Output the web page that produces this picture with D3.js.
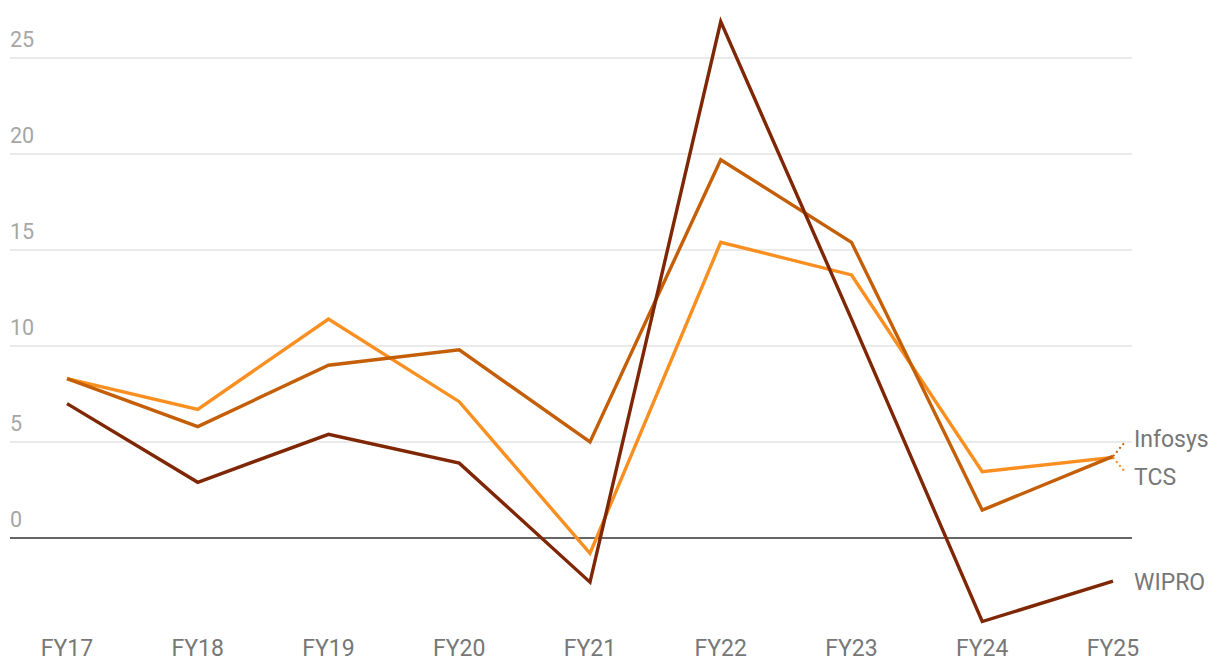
<!DOCTYPE html>
<html>
<head>
<meta charset="utf-8">
<script src="https://cdn.jsdelivr.net/npm/d3@7"></script>
<style>
  html, body { margin: 0; padding: 0; background: #fff; }
  svg { display: block; font-family: Roboto, "Noto Sans", sans-serif; }
</style>
</head>
<body>
<svg id="chart" width="1220" height="672"></svg>
<script>
const categories = ["FY17", "FY18", "FY19", "FY20", "FY21", "FY22", "FY23", "FY24", "FY25"];
const tcsValues     = [8.3, 6.7, 11.4, 7.1, -0.8, 15.4, 13.7, 3.45, 4.2];
const infosysValues = [8.3, 5.8, 9.0, 9.8, 5.0, 19.7, 15.4, 1.45, 4.25];
const wiproValues   = [7.0, 2.9, 5.4, 3.9, -2.3, 26.9, 11.4, -4.35, -2.25];
const yTicks = [0, 5, 10, 15, 20, 25];
const seriesNames = ["TCS", "Infosys", "WIPRO"];

const series = [
  { name: seriesNames[0], values: tcsValues, color: "#f98f20" },
  { name: seriesNames[1], values: infosysValues, color: "#c45f08" },
  { name: seriesNames[2], values: wiproValues, color: "#7f2704" }
];

const svg = d3.select("#chart");
const x = d3.scalePoint().domain(categories).range([67, 1113]);
const y = d3.scaleLinear().domain([0, 25]).range([538, 58]);

// gridlines
svg.append("g").selectAll("line").data(yTicks.filter(d => d !== 0)).join("line")
  .attr("x1", 10).attr("x2", 1132)
  .attr("y1", d => y(d)).attr("y2", d => y(d))
  .attr("stroke", "#e3e3e3").attr("stroke-width", 1.5);

// y labels
svg.append("g").selectAll("text").data(yTicks).join("text")
  .attr("x", 10).attr("y", d => y(d) - 11)
  .attr("font-size", 21.5).attr("fill", "#a6a6a6")
  .text(d => d);

// x labels
svg.append("g").selectAll("text").data(categories).join("text")
  .attr("x", d => x(d)).attr("y", 656)
  .attr("text-anchor", "middle")
  .attr("font-size", 23).attr("fill", "#777")
  .text(d => d);

// zero line
svg.append("line")
  .attr("x1", 10).attr("x2", 1132)
  .attr("y1", y(0)).attr("y2", y(0))
  .attr("stroke", "#333").attr("stroke-width", 1.5);

const line = d3.line()
  .x((d, i) => x(categories[i]))
  .y(d => y(d));

svg.append("g").selectAll("path").data(series).join("path")
  .attr("d", d => line(d.values))
  .attr("fill", "none")
  .attr("stroke", d => d.color)
  .attr("stroke-width", 3.4)
  .attr("stroke-linejoin", "miter");

// end labels
const labelPos = { "Infosys": y(0) - 100, "TCS": y(0) - 62, "WIPRO": y(wiproValues[8]) };
series.forEach(s => {
  const lastV = s.values[s.values.length - 1];
  const ex = x(categories[categories.length - 1]);
  const ey = y(lastV);
  const ly = labelPos[s.name];
  if (Math.abs(ly - ey) > 6) {
    svg.append("line")
      .attr("x1", ex).attr("y1", ey)
      .attr("x2", ex + 12).attr("y2", ly + (ly < ey ? 4 : -4))
      .attr("stroke", s.color).attr("stroke-width", 2)
      .attr("stroke-dasharray", "2,3");
  }
  svg.append("text")
    .attr("x", 1134).attr("y", ly + 8.5)
    .attr("font-size", 23).attr("fill", "#777")
    .text(s.name);
});
</script>
</body>
</html>
